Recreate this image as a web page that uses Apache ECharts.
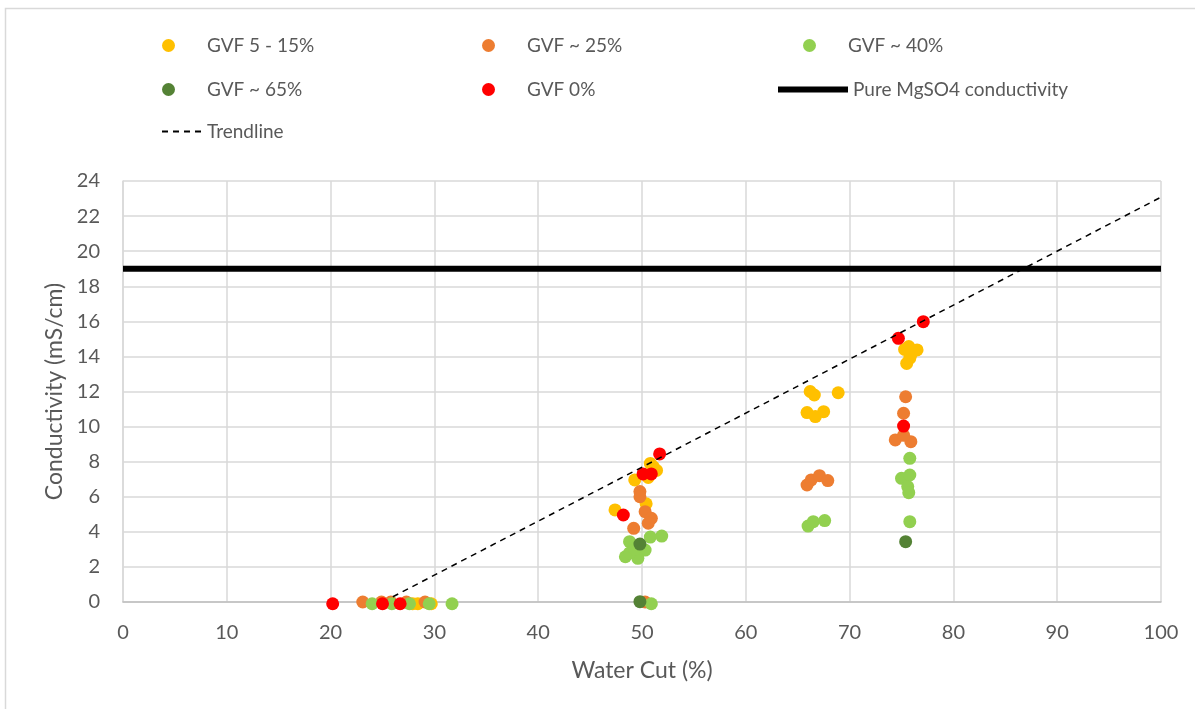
<!DOCTYPE html>
<html>
<head>
<meta charset="utf-8">
<script src="https://cdn.jsdelivr.net/npm/echarts@6/dist/echarts.min.js"></script>
<style>
html,body{margin:0;padding:0;background:#fff;}
#main{width:1195px;height:709px;}
</style>
</head>
<body>
<div id="main"></div>
<script>
// GVF series (water cut %, conductivity mS/cm)
var gvf5_15=[[27.9,-0.1],[28.4,-0.1],[29.7,-0.1],
    [47.4,5.25],[49.3,6.96],[50.6,7.1],[50.8,7.9],[51.4,7.5],[51.1,7.7],[50.4,5.6],
    [66.2,12.0],[66.6,11.8],[68.9,11.93],[65.9,10.8],[66.7,10.57],[67.5,10.85],
    [75.7,14.56],[76.5,14.37],[75.9,14.1],[75.5,13.6],[75.8,13.9],[75.3,14.4]];
var gvf25=[[23.1,0],[24.9,0],[25.8,0],[27.3,0],[29.1,0],
    [49.8,6.3],[49.8,6.0],[50.3,5.15],[50.9,4.77],[50.6,4.49],[49.2,4.2],[50.3,0],
    [65.9,6.67],[66.3,6.96],[67.1,7.2],[67.9,6.92],
    [75.4,11.7],[75.2,10.76],[74.4,9.24],[75.9,9.14],[75.2,9.5]];
var gvf40=[[24.0,-0.1],[25.9,-0.1],[27.6,-0.1],[29.5,-0.1],[31.7,-0.1],
    [48.8,3.44],[50.8,3.7],[51.9,3.76],[50.3,2.96],[48.4,2.58],[49.6,2.49],[48.8,2.8],[49.3,3.0],[50.9,-0.1],
    [66.0,4.33],[66.5,4.58],[67.6,4.64],
    [75.8,8.19],[75.0,7.05],[75.8,7.24],[75.6,6.58],[75.7,6.23],[75.8,4.58]];
var gvf65=[[49.8,3.3],[49.8,0.02],[75.4,3.44]];
var gvf0=[[20.2,-0.1],[25.0,-0.1],[26.7,-0.1],
    [51.7,8.44],[50.1,7.3],[50.9,7.3],[48.2,4.96],
    [74.7,15.03],[77.1,15.98],[75.2,10.03]];
var pureLine=[[0,19],[100,19]];
var trendLine=[[26,0.3],[100,23.08]];

var names=['GVF 5 - 15%','GVF ~ 25%','GVF ~ 40%','GVF ~ 65%','GVF 0%','Pure MgSO4 conductivity','Trendline'];
var colors=['#FFC000','#ED7D31','#92D050','#548235','#FF0000'];

var fontFam='Lato, "Liberation Sans", sans-serif';
var txtCol='#595959';

function dotLegend(name,left,top){
    return {
        data:[name],left:left,top:top,icon:'circle',
        itemWidth:13,itemHeight:13,
        textStyle:{fontFamily:fontFam,fontSize:19,color:txtCol,padding:[0,0,0,27]}
    };
}

var myChart=echarts.init(document.getElementById('main'));

var seri=[];
var groups=[gvf5_15,gvf25,gvf40,gvf65,gvf0];
for(var i=0;i<groups.length;i++){
    seri.push({name:names[i],type:'scatter',data:groups[i],symbolSize:13,clip:false,
        itemStyle:{color:colors[i],opacity:1}});
}
seri.push({name:names[5],type:'line',data:pureLine,symbol:'none',
    lineStyle:{color:'#000',width:6},itemStyle:{color:'#000'}});
seri.push({name:names[6],type:'line',data:trendLine,symbol:'none',
    lineStyle:{color:'#000',width:1.5,type:[6,5]},itemStyle:{color:'#000'}});

var option={
    animation:false,
    backgroundColor:'#fff',
    graphic:[{type:'rect',shape:{x:5.5,y:8.5,width:1300,height:800},
        style:{fill:'none',stroke:'#d9d9d9',lineWidth:1.5},silent:true}],
    legend:[
        dotLegend(names[0],157,31),
        dotLegend(names[1],477,31),
        dotLegend(names[2],798,31),
        dotLegend(names[3],157,75),
        dotLegend(names[4],477,75),
        {data:[names[5]],left:770,top:75,itemWidth:70,itemHeight:14,
            itemStyle:{opacity:0},lineStyle:{width:6,color:'#000'},
            textStyle:{fontFamily:fontFam,fontSize:19,color:txtCol}},
        {data:[names[6]],left:156,top:117,itemWidth:40,itemHeight:14,
            itemStyle:{opacity:0},
            textStyle:{fontFamily:fontFam,fontSize:19,color:txtCol}}
    ],
    grid:{left:123,right:34,top:181,bottom:107},
    xAxis:{
        type:'value',min:0,max:100,interval:10,
        name:'Water Cut (%)',nameLocation:'middle',nameGap:57,
        nameTextStyle:{fontFamily:fontFam,fontSize:23,color:txtCol},
        axisLine:{lineStyle:{color:'#bfbfbf',width:1.5}},
        axisTick:{show:false},
        axisLabel:{fontFamily:fontFam,fontSize:20,color:txtCol,margin:21},
        splitLine:{lineStyle:{color:'#d9d9d9',width:1.5}}
    },
    yAxis:{
        type:'value',min:0,max:24,interval:2,
        name:'Conductivity (mS/cm)',nameLocation:'middle',nameGap:55,
        nameTextStyle:{fontFamily:fontFam,fontSize:23,color:txtCol},
        axisLine:{show:true,lineStyle:{color:'#d9d9d9',width:1.5}},
        axisTick:{show:false},
        axisLabel:{fontFamily:fontFam,fontSize:20,color:txtCol,margin:23},
        splitLine:{lineStyle:{color:'#d9d9d9',width:1.5}}
    },
    series:seri
};

myChart.setOption(option);
</script>
</body>
</html>
